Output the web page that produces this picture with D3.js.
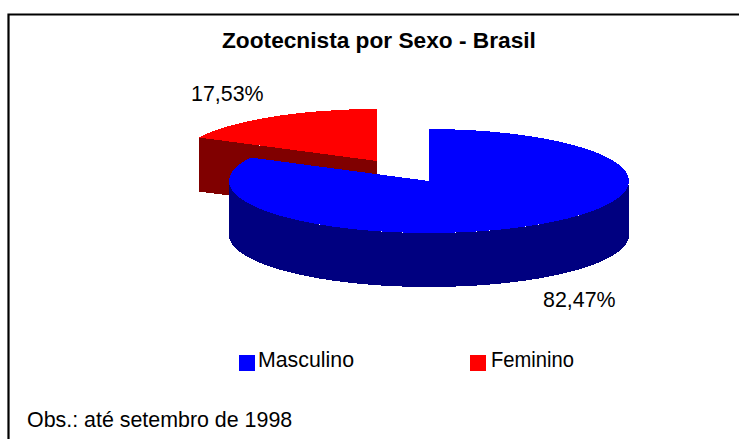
<!DOCTYPE html>
<html><head><meta charset="utf-8">
<script src="https://cdn.jsdelivr.net/npm/d3@7"></script>
<style>html,body{margin:0;padding:0;background:#fff}svg{display:block}text{font-family:"Liberation Sans",Arial,sans-serif;fill:#000}</style>
</head><body><div id="c"></div>
<script>
const categories = ["Masculino", "Feminino"];
const values = [82.47, 17.53];
const labels = ["82,47%", "17,53%"];
const colors = ["#0000ff", "#ff0000"];
const sideColors = ["#000080", "#800000"];
const title = "Zootecnista por Sexo - Brasil";
const note = "Obs.: até setembro de 1998";

const W = 739, H = 439;
const svg = d3.select("#c").append("svg").attr("width", W).attr("height", H);
svg.append("rect").attr("width", W).attr("height", H).attr("fill", "#fff");
svg.append("path").attr("d", "M8.5 439V14.5H739").attr("fill", "none").attr("stroke", "#000").attr("stroke-width", 2.2);

const rx = 200, ry = 52, depth = 54;
const pie = d3.pie().sort(null).value(d => d);
const arcs = pie(values);
const arc = d3.arc().innerRadius(0).outerRadius(rx);
const centers = [[429, 181], [377, 161]];
const px = (c, a) => c[0] + rx * Math.sin(a);
const py = (c, a) => c[1] - ry * Math.cos(a);
const line = d3.line();

// Feminino (behind): cut face then top
{
  const c = centers[1], a = arcs[1];
  const P = [px(c, a.startAngle), py(c, a.startAngle)];
  svg.append("path").attr("shape-rendering", "crispEdges")
    .attr("d", line([P, c, [c[0], c[1] + depth], [P[0], P[1] + depth]]))
    .attr("fill", sideColors[1]);
  svg.append("path").attr("d", arc(a)).attr("fill", colors[1]).attr("shape-rendering", "crispEdges")
    .attr("transform", `translate(${c}) scale(1,${ry / rx})`);
}
// Masculino: front wall then top
{
  const c = centers[0], a = arcs[0];
  const angles = d3.range(Math.PI / 2, 3 * Math.PI / 2 + 0.001, Math.PI / 90);
  const top = angles.map(t => [px(c, t), py(c, t)]);
  const bottom = top.map(p => [p[0], p[1] + depth]).reverse();
  svg.append("path").attr("shape-rendering", "crispEdges")
    .attr("d", line(top.concat(bottom)) + "Z").attr("fill", sideColors[0]);
  svg.append("path").attr("d", arc(a)).attr("fill", colors[0]).attr("shape-rendering", "crispEdges")
    .attr("transform", `translate(${c}) scale(1,${ry / rx})`);
}

svg.append("text").attr("x", 222).attr("y", 48)
  .attr("font-size", 22.7).attr("font-weight", "bold").text(title);
svg.append("text").attr("x", 191).attr("y", 101).attr("font-size", 21.4).text(labels[1]);
svg.append("text").attr("x", 543).attr("y", 307).attr("font-size", 21.4).text(labels[0]);

const legendX = [239, 470];
const legendTextX = [258, 491];
const legendTextW = [96, 83];
categories.forEach((n, i) => {
  svg.append("rect").attr("x", legendX[i]).attr("y", 355).attr("width", 16).attr("height", 16).attr("fill", colors[i]);
  svg.append("text").attr("x", legendTextX[i]).attr("y", 367).attr("font-size", 21.4)
    .attr("textLength", legendTextW[i]).attr("lengthAdjust", "spacingAndGlyphs").text(n);
});
svg.append("text").attr("x", 27).attr("y", 427).attr("font-size", 21.4).text(note);
</script></body></html>
